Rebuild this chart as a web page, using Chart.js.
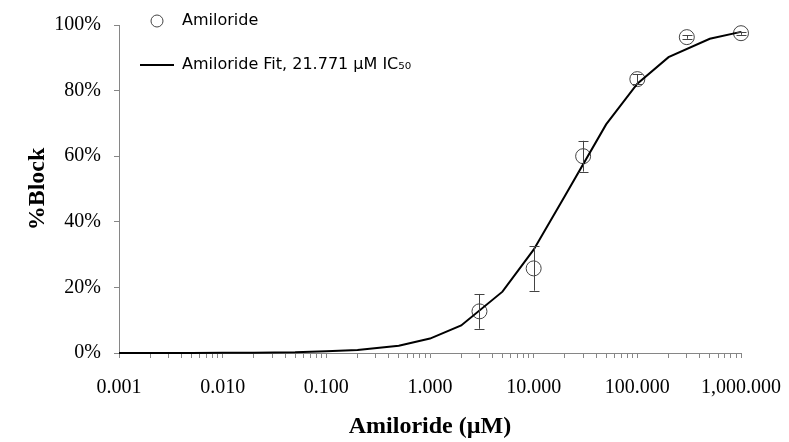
<!DOCTYPE html>
<html>
<head>
<meta charset="utf-8">
<script src="https://cdn.jsdelivr.net/npm/chart.js@4.4.1/dist/chart.umd.min.js"></script>
<style>
  html, body { margin: 0; padding: 0; background: #fff; }
  #wrap { width: 789px; height: 442px; }
</style>
</head>
<body>
<div id="wrap"><canvas id="c" width="789" height="442"></canvas></div>
<script>
// ---- data ----
const concentrations = [3, 10, 30, 100, 300, 1000];          // µM
const blockPct       = [12.7, 25.8, 60.0, 83.5, 96.3, 97.5];  // %Block
const blockErr       = [5.3, 6.8, 4.7, 1.5, 0.5, 0.5];        // ± error

const fitConc = [0.001, 0.002, 0.005, 0.01, 0.02, 0.05, 0.1, 0.2, 0.5, 1, 2, 5, 10, 20, 50, 100, 200, 500, 1000];
const fitPct  = [0.0, 0.0, 0.0, 0.05, 0.1, 0.2, 0.5, 0.9, 2.2, 4.4, 8.4, 18.7, 31.5, 47.9, 69.7, 82.1, 90.2, 95.8, 97.9];

const xTickValues = [0.001, 0.01, 0.1, 1, 10, 100, 1000];
const xTickLabels = ['0.001', '0.010', '0.100', '1.000', '10.000', '100.000', '1,000.000'];
const yTickValues = [0, 20, 40, 60, 80, 100];

const seriesName = 'Amiloride';
const fitName = 'Amiloride Fit, 21.771 µM IC₅₀';
const xTitle = 'Amiloride (µM)';
const yTitle = '%Block';

// ---- styling ----
const axisGray = '#868686';
const markerGray = '#444444';

// legend circle marker image
const circleImg = document.createElement('canvas');
circleImg.width = 18; circleImg.height = 18;
(function () {
  const g = circleImg.getContext('2d');
  g.strokeStyle = markerGray; g.lineWidth = 1;
  g.beginPath(); g.arc(9, 9, 6, 0, Math.PI * 2); g.stroke();
})();

const errorBars = {
  id: 'errorBars',
  afterDatasetsDraw(chart) {
    const { ctx, scales: { x, y } } = chart;
    ctx.save();
    ctx.strokeStyle = markerGray;
    ctx.lineWidth = 1;
    concentrations.forEach((c, i) => {
      const px = Math.round(x.getPixelForValue(c)) + 0.5;
      const top = y.getPixelForValue(blockPct[i] + blockErr[i]);
      const bot = y.getPixelForValue(blockPct[i] - blockErr[i]);
      ctx.beginPath();
      ctx.moveTo(px, top); ctx.lineTo(px, bot);
      ctx.moveTo(px - 5, Math.round(top) + 0.5); ctx.lineTo(px + 5, Math.round(top) + 0.5);
      ctx.moveTo(px - 5, Math.round(bot) + 0.5); ctx.lineTo(px + 5, Math.round(bot) + 0.5);
      ctx.stroke();
    });
    ctx.restore();
  }
};

const legendMover = {
  id: 'legendMover',
  afterLayout(chart) {
    const lg = chart.legend;
    if (!lg) return;
    const w = lg.width;
    lg.left = 112; lg.top = -15;
    lg.right = lg.left + w; lg.bottom = 353;
  }
};

new Chart(document.getElementById('c'), {
  data: {
    datasets: [
      {
        type: 'scatter',
        label: seriesName,
        data: concentrations.map((c, i) => ({ x: c, y: blockPct[i] })),
        showLine: false,
        pointStyle: 'circle',
        pointRadius: 7.5,
        pointHoverRadius: 7.5,
        borderColor: markerGray,
        backgroundColor: 'rgba(0,0,0,0)',
        borderWidth: 1,
        clip: false,
        order: 2
      },
      {
        type: 'line',
        label: fitName,
        data: fitConc.map((c, i) => ({ x: c, y: fitPct[i] })),
        borderColor: '#000000',
        backgroundColor: '#000000',
        borderWidth: 2,
        pointRadius: 0,
        tension: 0,
        fill: false,
        clip: false,
        order: 1
      }
    ]
  },
  options: {
    responsive: false,
    animation: false,
    events: [],
    layout: { padding: { left: 0, right: 48, top: 21, bottom: 0 } },
    plugins: {
      tooltip: { enabled: false },
      legend: {
        position: 'chartArea',
        align: 'start',
        labels: {
          usePointStyle: true,
          pointStyleWidth: 34,
          padding: 28,
          color: '#000',
          font: { family: 'DejaVu Sans', size: 16 },
          generateLabels(chart) {
            const items = Chart.defaults.plugins.legend.labels.generateLabels(chart);
            items.sort((a, b) => a.datasetIndex - b.datasetIndex);
            items.forEach(it => {
              if (it.datasetIndex === 0) {
                it.pointStyle = circleImg;
              } else {
                it.pointStyle = 'line';
                it.strokeStyle = '#000';
                it.lineWidth = 2;
              }
            });
            return items;
          }
        }
      }
    },
    scales: {
      x: {
        type: 'logarithmic',
        position: 'bottom',
        min: 0.001,
        max: 1000,
        afterBuildTicks(scale) {
          const t = [];
          xTickValues.forEach((d, k) => {
            if (k === xTickValues.length - 1) { t.push({ value: d }); return; }
            for (let m = 1; m <= 9; m++) t.push({ value: d * m });
          });
          scale.ticks = t;
        },
        afterFit(scale) {
          scale.height = 89;
          scale.paddingLeft = 0;
          scale.paddingRight = 0;
        },
        border: { display: true, color: axisGray, width: 1 },
        grid: { display: true, drawOnChartArea: false, drawTicks: true, tickLength: 5, color: axisGray },
        ticks: {
          autoSkip: false,
          maxRotation: 0,
          minRotation: 0,
          padding: 18,
          color: '#000',
          font: { family: 'Liberation Serif', size: 20 },
          callback(value) {
            const k = xTickValues.findIndex(d => Math.abs(d - value) / d < 1e-6);
            return k >= 0 ? xTickLabels[k] : '';
          }
        },
        title: {
          display: true,
          text: xTitle,
          color: '#000',
          font: { family: 'Liberation Serif', size: 24, weight: 'bold', lineHeight: 1.2 },
          padding: { top: 0, bottom: 1 }
        }
      },
      y: {
        min: 0,
        max: 100,
        afterBuildTicks(scale) { scale.ticks = yTickValues.map(v => ({ value: v })); },
        afterFit(scale) { scale.width = 119; },
        border: { display: true, color: axisGray, width: 1 },
        grid: { display: true, drawOnChartArea: false, drawTicks: true, tickLength: 5, color: axisGray },
        ticks: {
          padding: 13,
          color: '#000',
          font: { family: 'Liberation Serif', size: 20 },
          callback(value) { return value + '%'; }
        },
        title: {
          display: true,
          text: yTitle,
          color: '#000',
          font: { family: 'Liberation Serif', size: 24, weight: 'bold', lineHeight: 1.2 },
          padding: { top: 23, bottom: 0 }
        }
      }
    }
  },
  plugins: [errorBars, legendMover]
});
</script>
</body>
</html>
